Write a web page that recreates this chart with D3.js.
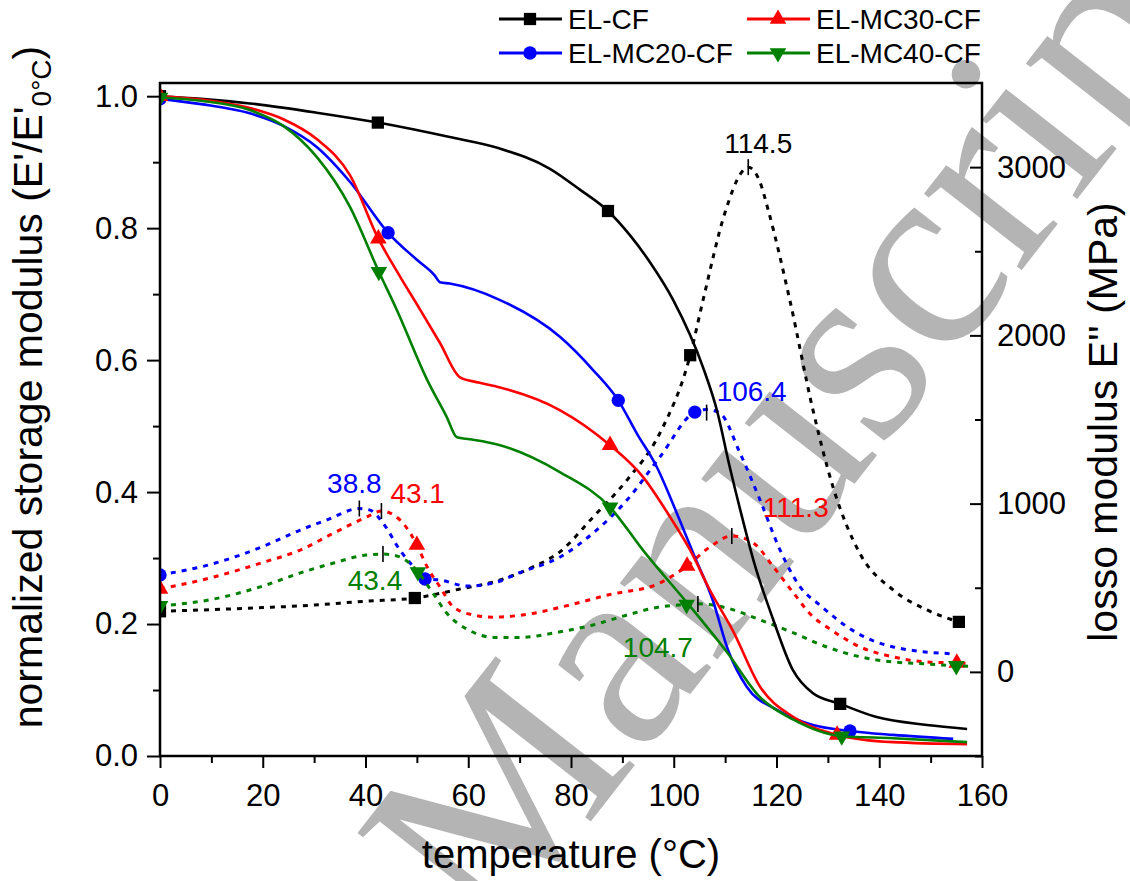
<!DOCTYPE html>
<html><head><meta charset="utf-8">
<script src="https://cdn.jsdelivr.net/npm/d3@7"></script>
<style>
body{margin:0;background:#fff}
svg{display:block}
text{font-family:"Liberation Sans",Arial,Helvetica,sans-serif}
</style>
</head><body>
<svg id="chart" width="1130" height="881"></svg>
<script>
// ---------------- DATA ----------------
const seriesNames = ["EL-CF", "EL-MC20-CF", "EL-MC30-CF", "EL-MC40-CF"];

// normalized storage modulus E'/E'0°C (left axis)
const storageTempElCF = [0, 8, 17.5, 30.5, 42.4, 56.4, 66, 75.9, 81.8, 87.2, 91.5, 95.4, 99.9, 105.7, 108.4, 110.9, 113.3, 115.5, 119.3, 123.2, 127.1, 132.4, 139.5, 149.3, 157.1];
const storageElCF     = [1.0, 0.996, 0.989, 0.975, 0.960, 0.938, 0.921, 0.890, 0.858, 0.826, 0.789, 0.748, 0.691, 0.589, 0.524, 0.438, 0.362, 0.297, 0.208, 0.130, 0.095, 0.079, 0.059, 0.047, 0.041];

const storageTempMC20 = [0, 8, 17.5, 24, 30.5, 37, 44.4, 50, 53.5, 54.5, 56.4, 66.2, 77.9, 84.3, 89.2, 92.8, 96.7, 100.6, 103.8, 107.6, 110.6, 114.2, 120.1, 127.1, 134.3, 142.7, 154.4];
const storageMC20     = [0.996, 0.988, 0.974, 0.955, 0.923, 0.870, 0.793, 0.752, 0.728, 0.718, 0.716, 0.691, 0.635, 0.585, 0.539, 0.489, 0.438, 0.368, 0.307, 0.236, 0.160, 0.105, 0.070, 0.047, 0.038, 0.032, 0.026];

const storageTempMC30 = [0, 8, 17.5, 24, 30.5, 37, 42.5, 46.7, 50.6, 54.5, 58.4, 62, 66, 77.9, 87.6, 94, 99.3, 103.2, 107, 111.5, 116.8, 123.3, 131.8, 142.7, 157.1];
const storageMC30     = [1.0, 0.995, 0.982, 0.965, 0.935, 0.880, 0.784, 0.727, 0.677, 0.626, 0.574, 0.566, 0.559, 0.524, 0.471, 0.423, 0.362, 0.312, 0.252, 0.190, 0.105, 0.059, 0.032, 0.021, 0.018];

const storageTempMC40 = [0, 8, 17.5, 24, 30.5, 37, 42.6, 46.1, 52, 55.8, 57.8, 60.3, 66.2, 77.9, 87.6, 94, 103.8, 110.3, 116.8, 123.3, 132.7, 142.7, 157.1];
const storageMC40     = [0.998, 0.993, 0.979, 0.955, 0.908, 0.832, 0.734, 0.676, 0.570, 0.514, 0.483, 0.480, 0.471, 0.430, 0.377, 0.312, 0.221, 0.158, 0.089, 0.055, 0.030, 0.027, 0.021];

// loss modulus E'' in MPa (right axis)
const lossTempElCF = [0, 10, 20, 27.3, 40, 49.6, 58, 66.2, 72, 77.9, 84.3, 90.9, 97.3, 103.2, 105.7, 110, 113.2, 114.5, 116.8, 118.4, 122.6, 127.1, 131, 136.3, 142.7, 149.3, 155.5];
const lossElCF     = [360, 370, 382, 392, 420, 439, 490, 546, 615, 715, 920, 1140, 1419, 1882, 2209, 2732, 2969, 3000, 2910, 2743, 2209, 1556, 1099, 700, 487, 368, 297];

const lossTempMC20 = [0, 10, 20, 27.3, 32.5, 38.8, 41, 43.4, 46.7, 48.7, 51.6, 54.5, 59.7, 64.9, 70, 77.9, 84.3, 90.9, 97.3, 104.1, 106.4, 109, 112.9, 116.8, 120.7, 124.6, 128.5, 134.9, 142.7, 154.4];
const lossMC20     = [576, 640, 745, 843, 903, 971, 960, 885, 724, 647, 552, 546, 510, 528, 590, 683, 825, 1021, 1277, 1544, 1560, 1538, 1300, 1021, 724, 505, 395, 245, 148, 107];

const lossTempMC30 = [0, 10, 20, 27.3, 33.8, 40.2, 43.1, 46.7, 48.7, 50, 52, 54.5, 57.1, 61, 65, 72, 79.8, 87.6, 96.7, 102.6, 107, 111.3, 115.5, 119.4, 123.3, 127.1, 129.8, 136.3, 142.7, 149.3, 155.1, 157.5];
const lossMC30     = [493, 560, 650, 724, 825, 920, 956, 903, 825, 754, 624, 505, 386, 338, 325, 345, 398, 460, 520, 630, 742, 808, 766, 624, 469, 327, 267, 148, 89, 59, 53, 50];

const lossTempMC40 = [0, 10, 20, 27.3, 33.8, 40.2, 43.4, 46.7, 50.2, 53.1, 55.8, 60, 65, 70, 77.9, 84.3, 90.9, 97.3, 102.5, 104.7, 110.3, 116.8, 123.3, 129.8, 136.3, 142.7, 149.3, 155, 157.5];
const lossMC40     = [392, 430, 510, 588, 647, 695, 700, 683, 594, 469, 350, 250, 205, 205, 238, 279, 338, 386, 400, 405, 380, 309, 232, 148, 89, 59, 47, 36, 34];

// temperatures where a symbol is drawn
const storageMarkerTemps = [[0, 42.4, 87.2, 132.4], [0, 44.4, 89.2, 134.3], [0, 42.5, 87.6, 131.8], [0, 42.6, 87.6, 132.7]];
const lossMarkerTemps    = [[0, 49.6, 103.2, 155.5], [0, 51.6, 104.1], [0, 50, 102.6, 155.1], [0, 50.2, 102.5, 155]];

// loss-modulus peaks
const peakSeries = [0, 1, 1, 2, 2, 3, 3];
const peakTemps  = [114.5, 38.8, 106.4, 43.1, 111.3, 43.4, 104.7];
const peakLoss   = [3000, 971, 1541, 956, 808, 700, 404];
const peakLabels = ["114.5", "38.8", "106.4", "43.1", "111.3", "43.4", "104.7"];

// axes
const xTicks = [0, 20, 40, 60, 80, 100, 120, 140, 160];
const xMinorTicks = [10, 30, 50, 70, 90, 110, 130, 150];
const leftTicks = [0, 0.2, 0.4, 0.6, 0.8, 1.0];
const leftMinorTicks = [0.1, 0.3, 0.5, 0.7, 0.9];
const rightTicks = [0, 1000, 2000, 3000];
const rightMinorTicks = [-500, 500, 1500, 2500];

// ---------------- STYLE / LAYOUT ----------------
const colors = ["#000000", "#0000ff", "#ff0000", "#008000"];
const symbols = ["square", "circle", "up", "down"];
const peakLabelLayout = [
  {anchor: "middle", dx: 10, dy: -14},
  {anchor: "middle", dx: -5, dy: -16},
  {anchor: "start", dx: 10, dy: -12},
  {anchor: "start", dx: 9, dy: -8},
  {anchor: "start", dx: 31, dy: -19},
  {anchor: "middle", dx: -8, dy: 36},
  {anchor: "end", dx: -5, dy: 53}
];

const L = 160, R = 982, T = 83, B = 756;
const svg = d3.select("#chart");

const x = d3.scaleLinear().domain([0, 160]).range([L, R]);
const yL = d3.scaleLinear().domain([0, 1.02]).range([B, T]);
const yR = d3.scaleLinear().domain([-500, 3500]).range([B, T]);

// watermark (behind everything)
svg.append("text")
  .attr("transform", "translate(492,948) rotate(-52)")
  .style("font-family", "'Liberation Serif','DejaVu Serif',serif")
  .style("font-size", "270px")
  .attr("fill", "#b4b4b4")
  .text("Manuscript");

const storageT = [storageTempElCF, storageTempMC20, storageTempMC30, storageTempMC40];
const storageV = [storageElCF, storageMC20, storageMC30, storageMC40];
const lossT = [lossTempElCF, lossTempMC20, lossTempMC30, lossTempMC40];
const lossV = [lossElCF, lossMC20, lossMC30, lossMC40];

function symbolPath(kind) {
  if (kind === "square") return d3.symbol(d3.symbolSquare, 150)();
  if (kind === "circle") return d3.symbol(d3.symbolCircle, 140)();
  return d3.symbol(d3.symbolTriangle, 120)();
}
function symbolTransform(kind, px, py) {
  return kind === "down" ? `translate(${px},${py}) rotate(180)` : `translate(${px},${py})`;
}

// clip
svg.append("defs").append("clipPath").attr("id", "plotclip")
  .append("rect").attr("x", L).attr("y", T).attr("width", R - L).attr("height", B - T);

const plot = svg.append("g").attr("clip-path", "url(#plotclip)");

function drawSeries(ts, vs, yScale, color, dashed, markerTemps, kind) {
  const pts = ts.map((t, i) => [t, vs[i]]);
  const line = d3.line().x(d => x(d[0])).y(d => yScale(d[1])).curve(d3.curveMonotoneX);
  plot.append("path").datum(pts)
    .attr("d", line)
    .attr("fill", "none")
    .attr("stroke", color)
    .attr("stroke-width", dashed ? 3 : 2.6)
    .attr("stroke-dasharray", dashed ? "5,6" : null)
    .attr("stroke-linejoin", "round");
  const mk = markerTemps.map(mt => pts.reduce((a, b) => Math.abs(b[0] - mt) < Math.abs(a[0] - mt) ? b : a));
  plot.selectAll(null).data(mk).enter().append("path")
    .attr("d", symbolPath(kind))
    .attr("transform", d => symbolTransform(kind, x(d[0]), yScale(d[1])))
    .attr("fill", color);
}

for (let i = 0; i < 4; i++) {
  drawSeries(lossT[i], lossV[i], yR, colors[i], true, lossMarkerTemps[i], symbols[i]);
}
for (let i = 0; i < 4; i++) {
  drawSeries(storageT[i], storageV[i], yL, colors[i], false, storageMarkerTemps[i], symbols[i]);
}

// peak ticks and labels
peakTemps.forEach((pt, i) => {
  const px = x(pt), py = yR(peakLoss[i]);
  svg.append("line").attr("x1", px).attr("x2", px).attr("y1", py - 8).attr("y2", py + 8)
    .attr("stroke", "#000").attr("stroke-width", 1.6);
  const lay = peakLabelLayout[i];
  svg.append("text").attr("x", px + lay.dx).attr("y", py + lay.dy)
    .attr("text-anchor", lay.anchor)
    .attr("font-size", 28)
    .attr("fill", colors[peakSeries[i]])
    .text(peakLabels[i]);
});

// axes
function styleAxis(g) {
  g.select(".domain").remove();
  g.selectAll(".tick line").attr("stroke", "#000").attr("stroke-width", 2);
  g.selectAll(".tick text").attr("font-size", 31).attr("fill", "#000");
}
svg.append("g").attr("transform", `translate(0,${B})`)
  .call(d3.axisBottom(x).tickValues(xTicks).tickFormat(d3.format("d")).tickSize(12).tickPadding(16))
  .call(styleAxis)
  .call(g => g.selectAll(".tick text").attr("dy", "0.71em"));
svg.append("g").attr("transform", `translate(0,${B})`)
  .call(d3.axisBottom(x).tickValues(xMinorTicks).tickFormat("").tickSize(7))
  .call(styleAxis);
svg.append("g").attr("transform", `translate(${L},0)`)
  .call(d3.axisLeft(yL).tickValues(leftTicks).tickFormat(d3.format(".1f")).tickSize(13).tickPadding(9))
  .call(styleAxis);
svg.append("g").attr("transform", `translate(${L},0)`)
  .call(d3.axisLeft(yL).tickValues(leftMinorTicks).tickFormat("").tickSize(7))
  .call(styleAxis);
svg.append("g").attr("transform", `translate(${R},0)`)
  .call(d3.axisRight(yR).tickValues(rightTicks).tickFormat(d3.format("d")).tickSize(-12).tickPadding(15))
  .call(styleAxis);
svg.append("g").attr("transform", `translate(${R},0)`)
  .call(d3.axisRight(yR).tickValues(rightMinorTicks).tickFormat("").tickSize(-7))
  .call(styleAxis);

// frame
svg.append("rect").attr("x", L).attr("y", T).attr("width", R - L).attr("height", B - T)
  .attr("fill", "none").attr("stroke", "#000").attr("stroke-width", 2.5);

// axis titles
svg.append("text").attr("x", (L + R) / 2).attr("y", 868).attr("text-anchor", "middle")
  .attr("font-size", 40).text("temperature (°C)");

const yt = svg.append("text").attr("transform", "translate(42,387) rotate(-90)")
  .attr("text-anchor", "middle").attr("font-size", 41);
yt.append("tspan").text("normalized storage modulus (E'/E'");
yt.append("tspan").attr("font-size", 28).attr("dy", 9).text("0°C");
yt.append("tspan").attr("dy", -9).text(")");

svg.append("text").attr("transform", "translate(1117,422) rotate(-90)")
  .attr("text-anchor", "middle").attr("font-size", 41).text("losso modulus E'' (MPa)");

// legend
const legendPos = [[499, 19], [499, 53], [747, 19], [747, 53]];
seriesNames.forEach((name, i) => {
  const [lx, ly] = legendPos[i];
  const g = svg.append("g");
  g.append("line").attr("x1", lx).attr("x2", lx + 63).attr("y1", ly).attr("y2", ly)
    .attr("stroke", colors[i]).attr("stroke-width", 3);
  g.append("path").attr("d", symbolPath(symbols[i]))
    .attr("transform", symbolTransform(symbols[i], lx + 31, ly)).attr("fill", colors[i]);
  g.append("text").attr("x", lx + 69).attr("y", ly + 10).attr("font-size", 28).text(name);
});
</script>
</body></html>
